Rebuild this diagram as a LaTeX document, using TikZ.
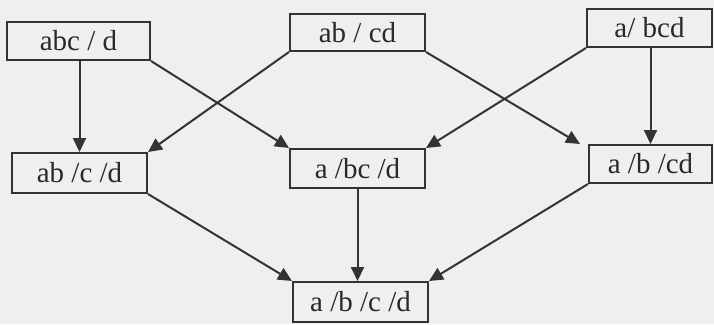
\documentclass[tikz,border=0pt]{standalone}
\usepackage{fontspec}
\setmainfont{Liberation Serif}
\usetikzlibrary{arrows.meta}
\definecolor{cPaper}{HTML}{EFEFEF}
\definecolor{cInk}{HTML}{333333}
\tikzset{
  part/.style={draw=cInk, line width=2pt, fill=cPaper, inner sep=2pt, text=cInk!80!black, font=\fontsize{29}{32}\selectfont},
  flow/.style={-{Triangle[length=14pt, width=13pt]}, line width=2pt, draw=cInk},
}
\begin{document}
\begin{tikzpicture}[x=1pt, y=-1pt]
\fill[cPaper] (0,0) rectangle (714,324);
\useasboundingbox (0,0) rectangle (714,324);
% top row
\node[part, minimum width=143pt, minimum height=38pt] (t1) at (78.5,41) {abc / d};
\node[part, minimum width=135pt, minimum height=37pt] (t2) at (357.5,32.5) {ab / cd};
\node[part, minimum width=125pt, minimum height=38pt] (t3) at (649.5,28) {a/ bcd};
% middle row
\node[part, minimum width=135pt, minimum height=40pt] (m1) at (79.5,173) {ab /c /d};
\node[part, minimum width=135pt, minimum height=39pt] (m2) at (357.5,168.5) {a /bc /d};
\node[part, minimum width=123pt, minimum height=38pt] (m3) at (650.5,164) {a /b /cd};
% bottom
\node[part, minimum width=135pt, minimum height=40pt] (bot) at (360.5,302) {a /b /c /d};
% refinements
\draw[flow] (m1.north |- t1.south) -- (m1.north);
\draw[flow] (t1.south east) -- (m2.north west);
\draw[flow] (t2.south west) -- (m1.north east);
\draw[flow] (t2.south east) -- ([xshift=-8pt]m3.north west);
\draw[flow] (t3.south west) -- (m2.north east);
\draw[flow] (m3.north |- t3.south) -- (m3.north);
\draw[flow] (m1.south east) -- (bot.north west);
\draw[flow] (m2.south) -- (m2.south |- bot.north);
\draw[flow] (m3.south west) -- (bot.north east);
\end{tikzpicture}
\end{document}
